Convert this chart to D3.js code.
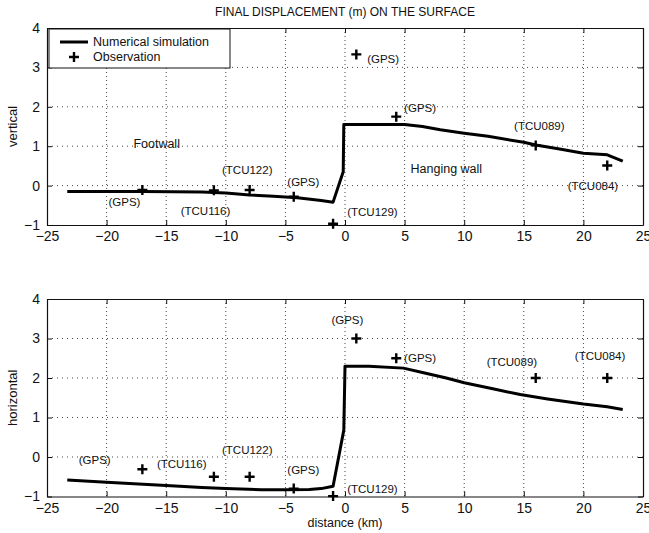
<!DOCTYPE html>
<html>
<head>
<meta charset="utf-8">
<script src="https://cdn.jsdelivr.net/npm/d3@7"></script>
<style>
  body { margin: 0; background: #fff; }
  svg text { font-family: "Liberation Sans", Arial, sans-serif; fill: #111; }
</style>
</head>
<body>
<svg id="chart" width="649" height="533"></svg>
<script>
// --- data (km, m) ---
const simVertical = [
  [-23.3, -0.15], [-17, -0.15], [-12, -0.16], [-10, -0.19], [-8, -0.24],
  [-6, -0.27], [-4, -0.31], [-2, -0.38], [-1, -0.42], [-0.15, 0.35],
  [-0.1, 1.55], [2, 1.55], [5, 1.55], [6.5, 1.5], [8, 1.42], [10, 1.33],
  [12, 1.25], [15, 1.1], [16, 1.03], [18, 0.93], [20, 0.82], [22, 0.78], [23.3, 0.62]
];
const simHorizontal = [
  [-23.3, -0.58], [-20, -0.64], [-15, -0.72], [-12, -0.77], [-10, -0.8],
  [-7, -0.83], [-5, -0.83], [-3, -0.82], [-2, -0.8], [-1, -0.74],
  [-0.1, 0.68], [0, 2.3], [2, 2.3], [4.9, 2.25], [6.5, 2.14], [8.5, 2.0],
  [10, 1.88], [12.5, 1.72], [14.7, 1.58], [17, 1.47], [20, 1.34], [22, 1.27], [23.3, 1.2]
];
const stations = ["(GPS)", "(TCU116)", "(TCU122)", "(GPS)", "(TCU129)", "(GPS)", "(GPS)", "(TCU089)", "(TCU084)"];
const obsX = [-17, -11, -8, -4.3, -1, 0.95, 4.3, 16, 22];
const obsVertical = [-0.11, -0.12, -0.11, -0.28, -0.97, 3.33, 1.75, 1.02, 0.51];
const obsHorizontal = [-0.31, -0.5, -0.5, -0.8, -0.99, 3.0, 2.5, 2.0, 2.0];
// label anchor (km, m) for each station label
const labelVertical = [[-18.5, -0.42], [-11.7, -0.64], [-8.2, 0.4], [-3.5, 0.08], [2.3, -0.67], [3.2, 3.22], [6.3, 1.98], [16.3, 1.52], [20.8, -0.02]];
const labelHorizontal = [[-21, -0.08], [-13.7, -0.17], [-8.2, 0.18], [-3.5, -0.34], [2.3, -0.8], [0.2, 3.47], [6.3, 2.5], [14, 2.41], [21.4, 2.55]];
const xTicks = [-25, -20, -15, -10, -5, 0, 5, 10, 15, 20, 25];
const yTicks = [-1, 0, 1, 2, 3, 4];

const svg = d3.select("#chart");
const left = 47, right = 643;
const x = d3.scaleLinear().domain([-25, 25]).range([left, right]);

const panels = [
  { top: 28, bottom: 225, sim: simVertical, obs: obsVertical, labels: labelVertical, ylabel: "vertical" },
  { top: 299, bottom: 496.5, sim: simHorizontal, obs: obsHorizontal, labels: labelHorizontal, ylabel: "horizontal" }
];

panels.forEach((p, pi) => {
  const y = d3.scaleLinear().domain([-1, 4]).range([p.bottom, p.top]);
  const g = svg.append("g");

  // dotted grid
  g.selectAll(".gx").data(xTicks.slice(1, -1)).join("line")
    .attr("x1", d => x(d)).attr("x2", d => x(d))
    .attr("y1", p.top).attr("y2", p.bottom)
    .attr("stroke", "#333").attr("stroke-width", 0.9).attr("stroke-dasharray", "1,3");
  g.selectAll(".gy").data(yTicks.slice(1, -1)).join("line")
    .attr("x1", left).attr("x2", right)
    .attr("y1", d => y(d)).attr("y2", d => y(d))
    .attr("stroke", "#333").attr("stroke-width", 0.9).attr("stroke-dasharray", "1,4");

  // axes with inward ticks
  const ax = g.append("g").attr("transform", `translate(0,${p.bottom})`)
    .call(d3.axisBottom(x).tickValues(xTicks).tickFormat(d3.format("d"))
      .tickSizeInner(-5).tickSizeOuter(0).tickPadding(9));
  const ay = g.append("g").attr("transform", `translate(${left},0)`)
    .call(d3.axisLeft(y).tickValues(yTicks).tickFormat(d3.format("d"))
      .tickSizeInner(-5).tickSizeOuter(0).tickPadding(7));
  g.append("g").attr("transform", `translate(0,${p.top})`)
    .call(d3.axisTop(x).tickValues(xTicks).tickSizeInner(-5).tickSizeOuter(0).tickFormat(""));
  g.append("g").attr("transform", `translate(${right},0)`)
    .call(d3.axisRight(y).tickValues(yTicks).tickSizeInner(-5).tickSizeOuter(0).tickFormat(""));
  g.selectAll(".domain").attr("stroke", "#111").attr("stroke-width", 1.2);
  g.selectAll(".tick line").attr("stroke", "#111");
  [ax, ay].forEach(a => a.selectAll("text")
    .style("font-family", "'Liberation Sans', Arial, sans-serif")
    .style("font-size", "14px").attr("fill", "#111"));
  ax.selectAll("text").attr("dy", "0.5em");

  // simulation line
  g.append("path").datum(p.sim)
    .attr("d", d3.line().x(d => x(d[0])).y(d => y(d[1])))
    .attr("fill", "none").attr("stroke", "#000").attr("stroke-width", 3)
    .attr("stroke-linejoin", "round");

  // observations
  g.selectAll(".obs").data(obsX).join("path")
    .attr("d", (d, i) => `M${x(d) - 5},${y(p.obs[i])}h10M${x(d)},${y(p.obs[i]) - 5}v10`)
    .attr("stroke", "#000").attr("stroke-width", 2.4);

  // station labels
  g.selectAll(".lab").data(stations).join("text")
    .attr("x", (d, i) => x(p.labels[i][0]))
    .attr("y", (d, i) => y(p.labels[i][1]))
    .attr("dy", "0.35em").attr("text-anchor", "middle")
    .style("font-size", "11.5px").text(d => d);

  // y label
  g.append("text")
    .attr("transform", `translate(17,${(p.top + p.bottom) / 2}) rotate(-90)`)
    .attr("text-anchor", "middle").style("font-size", "13px").text(p.ylabel);

  if (pi === 0) {
    g.append("text").attr("x", x(-15.8)).attr("y", y(1.06)).attr("dy", "0.35em")
      .attr("text-anchor", "middle").style("font-size", "12.5px").text("Footwall");
    g.append("text").attr("x", x(8.5)).attr("y", y(0.44)).attr("dy", "0.35em")
      .attr("text-anchor", "middle").style("font-size", "12.5px").text("Hanging wall");

    // legend
    const lg = g.append("g");
    lg.append("rect").attr("x", 49).attr("y", 29).attr("width", 181).attr("height", 39)
      .attr("fill", "#fff").attr("stroke", "#111").attr("stroke-width", 1);
    lg.append("line").attr("x1", 60).attr("x2", 88).attr("y1", 42).attr("y2", 42)
      .attr("stroke", "#000").attr("stroke-width", 3);
    lg.append("path").attr("d", "M69,57h10M74,52v10").attr("stroke", "#000").attr("stroke-width", 2.4);
    lg.append("text").attr("x", 93).attr("y", 42).attr("dy", "0.35em")
      .style("font-size", "12.5px").text("Numerical simulation");
    lg.append("text").attr("x", 93).attr("y", 57).attr("dy", "0.35em")
      .style("font-size", "12.5px").text("Observation");
  }
});

svg.append("text").attr("x", x(0)).attr("y", 16).attr("text-anchor", "middle")
  .style("font-size", "12px").text("FINAL DISPLACEMENT (m) ON THE SURFACE");
svg.append("text").attr("x", x(0)).attr("y", 527).attr("text-anchor", "middle")
  .style("font-size", "12.5px").text("distance (km)");
</script>
</body>
</html>
